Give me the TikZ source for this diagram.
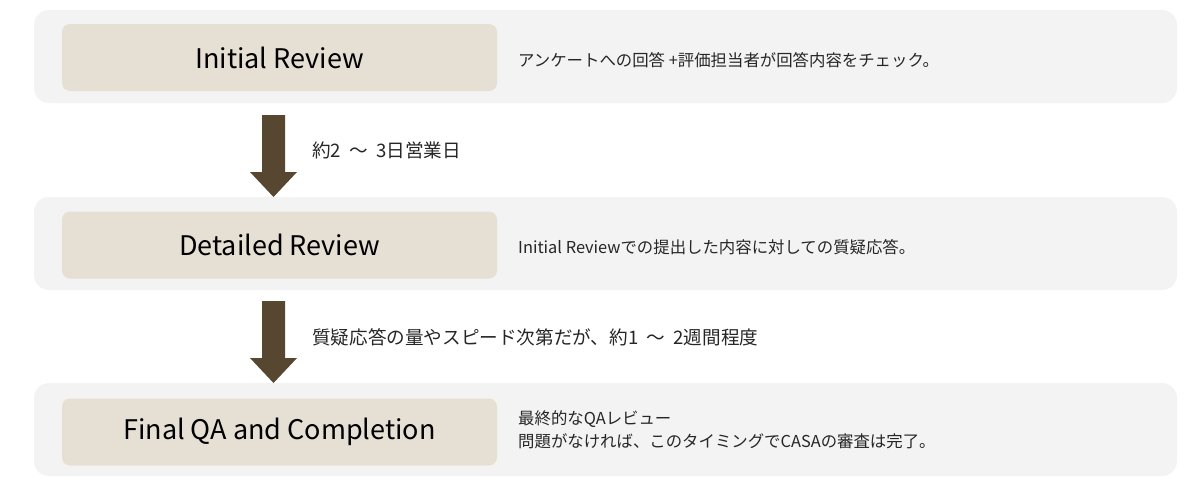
\documentclass[tikz,border=0pt]{standalone}
\usepackage{fontspec}
\setmainfont{Noto Sans CJK JP}
\definecolor{bandc}{HTML}{F3F3F3}
\definecolor{boxc}{HTML}{E6DFD4}
\definecolor{arrc}{HTML}{574730}
\definecolor{txtc}{HTML}{262626}
\newcommand{\wavesep}{\hspace{0.45em}〜\hspace{0.45em}}
\begin{document}
\begin{tikzpicture}[x=1pt,y=-1pt,
  band/.style={fill=bandc,draw=none,rounded corners=15pt},
  stage/.style={fill=boxc,draw=none,rounded corners=8pt,minimum width=435pt,minimum height=67pt,inner sep=0pt,font=\fontsize{27}{30}\selectfont,text=black},
  desc/.style={anchor=west,font=\fontsize{16.4}{23}\selectfont,text=txtc,align=left,inner sep=0pt},
  lab/.style={anchor=west,font=\fontsize{18.6}{22}\selectfont,text=txtc,inner sep=0pt},
  bigarrow/.style={fill=arrc,draw=none}]
\useasboundingbox (0,0) rectangle (1200,501);
\fill[white] (0,0) rectangle (1200,501);
% bands
\node[band,minimum width=1143pt,minimum height=93pt,inner sep=0pt] (b1) at (605.5,56.5) {};
\node[band,minimum width=1143pt,minimum height=93pt,inner sep=0pt] (b2) at (605.5,243.5) {};
\node[band,minimum width=1143pt,minimum height=93pt,inner sep=0pt] (b3) at (605.5,429.5) {};
% stage boxes
\node[stage] (s1) at (279.5,57.5) {Initial Review};
\node[stage] (s2) at (279.5,245) {Detailed Review};
\node[stage] (s3) at (279.5,432) {Final QA and Completion};
% descriptions
\node[desc] (d1) at (518,60) {アンケートへの回答 +評価担当者が回答内容をチェック。};
\node[desc] (d2) at (518,247) {Initial Reviewでの提出した内容に対しての質疑応答。};
\node[desc] (d3) at (518,430) {最終的なQAレビュー\\問題がなければ、このタイミングでCASAの審査は完了。};
% arrows
\fill[bigarrow] (262,115) -- (285,115) -- (285,172) -- (297,172) -- (273.5,197) -- (250,172) -- (262,172) -- cycle;
\fill[bigarrow] (262,301) -- (285,301) -- (285,358) -- (297,358) -- (273.5,383) -- (250,358) -- (262,358) -- cycle;
% labels
\node[lab] (l1) at (312,150) {約2\wavesep 3日営業日};
\node[lab] (l2) at (312,337) {質疑応答の量やスピード次第だが、約1\wavesep 2週間程度};
\end{tikzpicture}
\end{document}
